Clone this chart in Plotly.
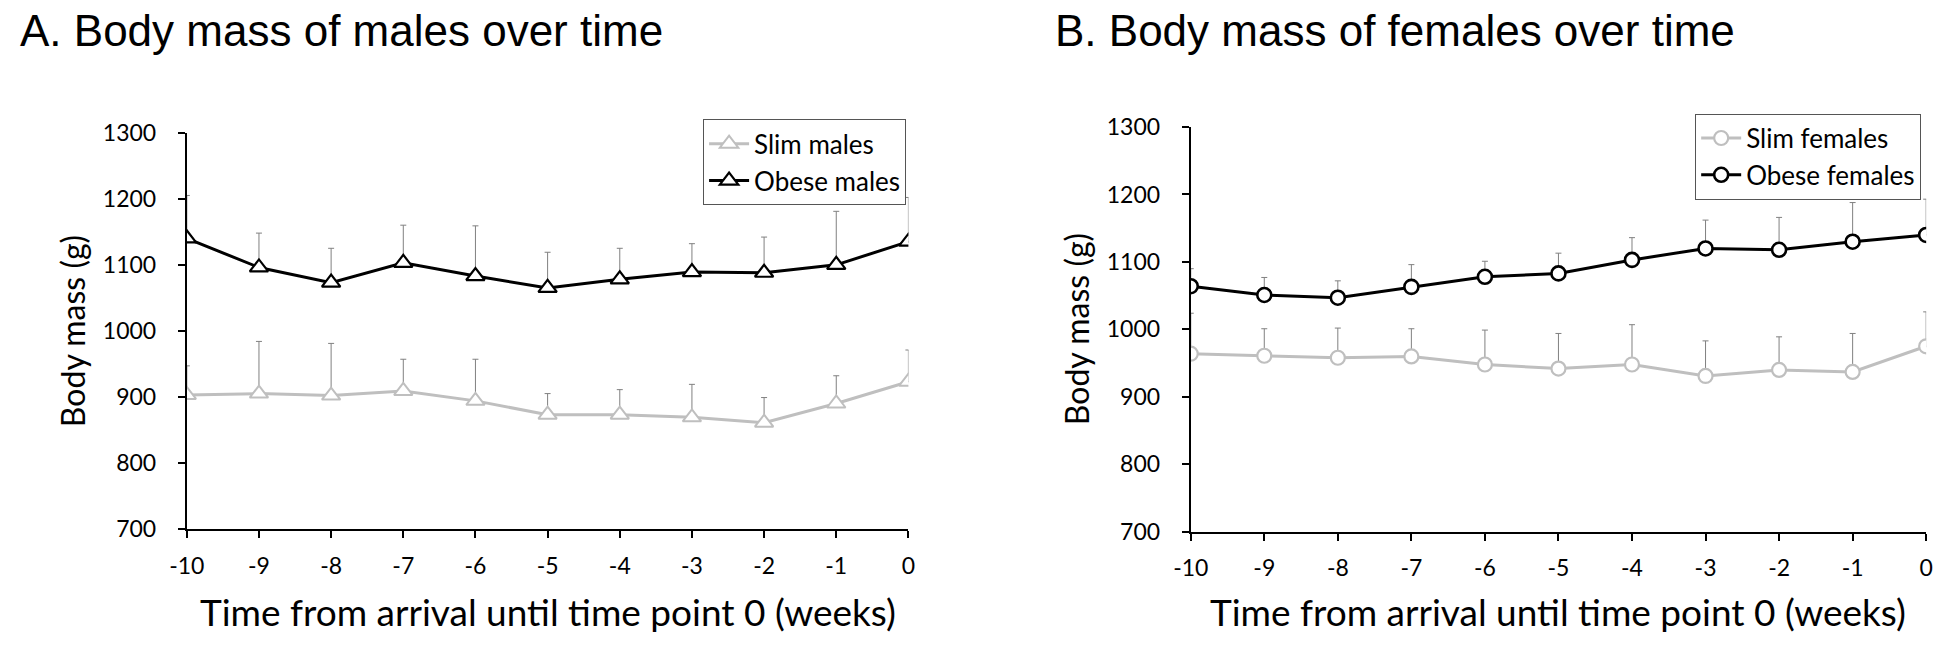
import plotly.graph_objects as go

weeks = [-10, -9, -8, -7, -6, -5, -4, -3, -2, -1, 0]
tick_labels = ["-10", "-9", "-8", "-7", "-6", "-5", "-4", "-3", "-2", "-1", "0"]
y_ticks = [700, 800, 900, 1000, 1100, 1200, 1300]

slim_males = [903, 905, 902, 909, 894, 873, 873, 869, 861, 890, 923]
slim_males_err = [44, 79, 79, 48, 63, 32, 38, 50, 38, 42, 48]
obese_males = [1140, 1096, 1073, 1103, 1083, 1065, 1078, 1089, 1088, 1100, 1135]
obese_males_err = [65, 52, 52, 57, 76, 54, 47, 43, 54, 81, 67]

slim_females = [964, 961, 958, 960, 948, 942, 948, 931, 940, 937, 975]
slim_females_err = [60, 40, 44, 41, 51, 52, 59, 52, 49, 57, 51]
obese_females = [1064, 1051, 1047, 1063, 1078, 1083, 1103, 1120, 1118, 1130, 1140]
obese_females_err = [26, 26, 25, 33, 23, 30, 33, 42, 48, 58, 53]

W, H = 1946, 653
LIGHT = "#bfbfbf"
ERR = "#808080"
TICKFONT = dict(family="Lato", size=23, color="black")


def err(vals):
    return dict(type="data", array=vals, arrayminus=[0] * len(vals), symmetric=False,
                color=ERR, thickness=1, width=3)


fig = go.Figure()

fig.add_trace(go.Scatter(x=weeks, y=slim_males, name="Slim males", mode="lines+markers",
                         line=dict(color=LIGHT, width=3),
                         marker=dict(symbol="triangle-up", size=16, color="white",
                                     line=dict(color=LIGHT, width=2)),
                         error_y=err(slim_males_err), xaxis="x", yaxis="y", legend="legend"))
fig.add_trace(go.Scatter(x=weeks, y=obese_males, name="Obese males", mode="lines+markers",
                         line=dict(color="black", width=3),
                         marker=dict(symbol="triangle-up", size=16, color="white",
                                     line=dict(color="black", width=2.2)),
                         error_y=err(obese_males_err), xaxis="x", yaxis="y", legend="legend"))
fig.add_trace(go.Scatter(x=weeks, y=slim_females, name="Slim females", mode="lines+markers",
                         line=dict(color=LIGHT, width=3),
                         marker=dict(symbol="circle", size=14, color="white",
                                     line=dict(color=LIGHT, width=2.2)),
                         error_y=err(slim_females_err), xaxis="x2", yaxis="y2", legend="legend2"))
fig.add_trace(go.Scatter(x=weeks, y=obese_females, name="Obese females", mode="lines+markers",
                         line=dict(color="black", width=3),
                         marker=dict(symbol="circle", size=14, color="white",
                                     line=dict(color="black", width=2.6)),
                         error_y=err(obese_females_err), xaxis="x2", yaxis="y2", legend="legend2"))


def xax(domain, anchor):
    return dict(domain=domain, anchor=anchor, range=[-10, 0], tickmode="array",
                tickvals=weeks, ticktext=tick_labels, showgrid=False, zeroline=False,
                showline=True, linecolor="black", linewidth=2, ticks="outside",
                ticklen=7, tickwidth=2, tickcolor="black", tickfont=TICKFONT,
                ticklabelstandoff=8)


def yax(domain, anchor):
    return dict(domain=domain, anchor=anchor, range=[700, 1300], tickmode="array",
                tickvals=y_ticks, showgrid=False, zeroline=False,
                showline=True, linecolor="black", linewidth=2, ticks="outside",
                ticklen=7, tickwidth=2, tickcolor="black", tickfont=TICKFONT,
                ticklabelstandoff=17)


legend_common = dict(xanchor="left", yanchor="top", bordercolor="#555555", borderwidth=1,
                     bgcolor="white", font=dict(family="Lato", size=26, color="black"),
                     tracegroupgap=0, itemwidth=40)

fig.update_layout(
    width=W, height=H, margin=dict(l=0, r=0, t=0, b=0),
    paper_bgcolor="white", plot_bgcolor="white",
    xaxis=xax([171 / W, 902 / W], "y"),
    yaxis=yax([1 - 537 / H, 1 - 123 / H], "x"),
    xaxis2=xax([1188 / W, 1933 / W], "y2"),
    yaxis2=yax([1 - 540 / H, 1 - 117 / H], "x2"),
    legend=dict(x=694 / W, y=1 - 109 / H, **legend_common),
    legend2=dict(x=1699 / W, y=1 - 103 / H, **legend_common),
    showlegend=True,
)

TITLEFONT = dict(family="Liberation Sans", size=44, color="black")
XFONT = dict(family="Lato", size=37, color="black")
YFONT = dict(family="Lato", size=32, color="black")
annotations = [
    dict(text="A. Body mass of males over time", x=0 / W, y=1 + 12 / H, xanchor="left",
         yanchor="top", font=TITLEFONT),
    dict(text="B. Body mass of females over time", x=1048 / W, y=1 + 12 / H, xanchor="left",
         yanchor="top", font=TITLEFONT),
    dict(text="Time from arrival until time point 0 (weeks)", x=536.5 / W, y=1 - 623 / H,
         xanchor="center", yanchor="middle", font=XFONT),
    dict(text="Time from arrival until time point 0 (weeks)", x=1560.5 / W, y=1 - 623 / H,
         xanchor="center", yanchor="middle", font=XFONT),
    dict(text="Body mass (g)", x=56 / W, y=1 - 330 / H, xanchor="center", yanchor="middle",
         textangle=-90, font=YFONT),
    dict(text="Body mass (g)", x=1073 / W, y=1 - 328 / H, xanchor="center", yanchor="middle",
         textangle=-90, font=YFONT),
]
for a in annotations:
    a.update(xref="paper", yref="paper", showarrow=False)
fig.update_layout(annotations=annotations)

fig.write_html("out.html", config={"displayModeBar": False},
               post_script="document.body.style.margin='0px';document.body.style.overflow='hidden';")
